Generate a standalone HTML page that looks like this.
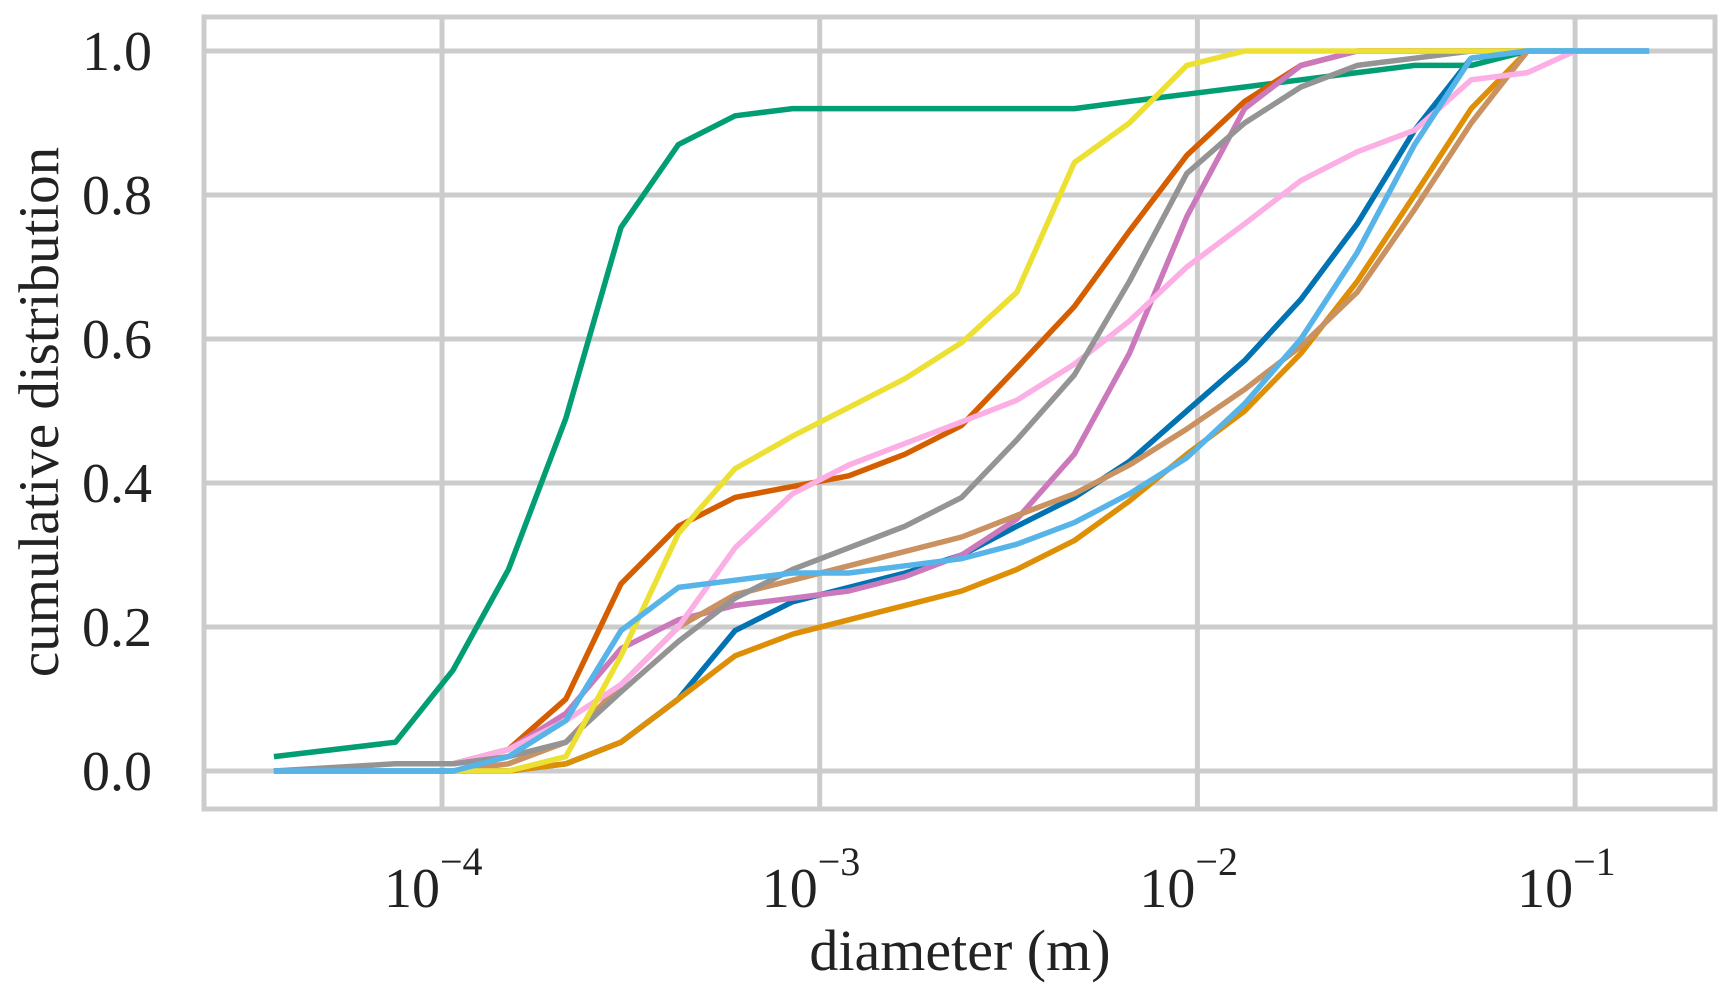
<!DOCTYPE html>
<html><head><meta charset="utf-8"><style>
html,body{margin:0;padding:0;background:#fff;}
svg{display:block;font-family:"Liberation Serif",serif;}
</style></head><body>
<svg id="chart" width="1724" height="994" viewBox="0 0 1724 994">
<g id="grid"></g>
<rect x="204" y="17" width="1511" height="792" fill="none" stroke="#cccccc" stroke-width="5"/>
<g id="lines"></g>
<g id="labels"></g>
<text x="960" y="970" font-size="58" text-anchor="middle" fill="#222">diameter (m)</text>
<text transform="translate(58,412) rotate(-90)" font-size="57" text-anchor="middle" fill="#222">cumulative distribution</text>
</svg>
<script>
const xLog=[-4.445,-4.123,-3.971,-3.824,-3.672,-3.526,-3.374,-3.224,-3.072,-2.923,-2.774,-2.624,-2.478,-2.326,-2.180,-2.028,-1.875,-1.726,-1.577,-1.425,-1.275,-1.126,-1.0,-0.804];
const yTicks=[0,0.2,0.4,0.6,0.8,1.0];
const yTickLabels=["0.0","0.2","0.4","0.6","0.8","1.0"];
const xTicks=[-4,-3,-2,-1];
const xTickLabels=["−4","−3","−2","−1"];
const _=null;
const sBlue=[0,0,0,0,0.01,0.04,0.1,0.195,0.235,0.255,0.275,0.3,0.34,0.38,0.43,0.5,0.57,0.655,0.76,0.89,0.99,1.0,_,_];
const sOrange=[_,_,0,0,0.01,0.04,0.1,0.16,0.19,0.21,0.23,0.25,0.28,0.32,0.375,0.44,0.5,0.58,0.68,0.8,0.92,1.0,_,_];
const sGreen=[0.02,0.04,0.14,0.28,0.49,0.755,0.87,0.91,0.92,0.92,0.92,0.92,0.92,0.92,0.93,0.94,0.95,0.96,0.97,0.98,0.98,1.0,1.0,1.0];
const sVermilion=[_,_,0.01,0.03,0.1,0.26,0.34,0.38,0.395,0.41,0.44,0.48,0.56,0.645,0.75,0.855,0.93,0.98,1.0,1.0,1.0,1.0,_,_];
const sPink=[_,_,0.01,0.03,0.08,0.17,0.21,0.23,0.24,0.25,0.27,0.3,0.35,0.44,0.58,0.77,0.92,0.98,1.0,1.0,1.0,1.0,_,_];
const sTan=[_,_,0,0.01,0.04,0.12,0.2,0.245,0.265,0.285,0.305,0.325,0.355,0.385,0.425,0.475,0.53,0.59,0.665,0.78,0.9,1.0,_,_];
const sLightPink=[_,_,0.01,0.03,0.07,0.12,0.2,0.31,0.385,0.425,0.455,0.485,0.515,0.565,0.625,0.7,0.76,0.82,0.86,0.89,0.96,0.97,1.0,1.0];
const sGray=[0,0.01,0.01,0.02,0.04,0.11,0.18,0.24,0.28,0.31,0.34,0.38,0.46,0.55,0.68,0.83,0.9,0.95,0.98,0.99,1.0,1.0,_,_];
const sYellow=[_,_,0,0,0.02,0.16,0.33,0.42,0.465,0.505,0.545,0.595,0.665,0.845,0.9,0.98,1.0,1.0,1.0,1.0,1.0,1.0,_,_];
const sSky=[0,0,0,0.02,0.07,0.195,0.255,0.265,0.275,0.275,0.285,0.295,0.315,0.345,0.385,0.435,0.51,0.6,0.72,0.87,0.99,1.0,1.0,1.0];
const seriesList=[["blue",sBlue,"#0173b2"],["orange",sOrange,"#de8f05"],["green",sGreen,"#029e73"],["vermilion",sVermilion,"#d55e00"],["pink",sPink,"#cc78bc"],["tan",sTan,"#ca9161"],["light-pink",sLightPink,"#fbafe4"],["gray",sGray,"#949494"],["yellow",sYellow,"#ece133"],["sky-blue",sSky,"#56b4e9"]];
const NS="http://www.w3.org/2000/svg";
function xS(l){return 442+(l+4)*377.7;}
function yS(v){return 771-v*720;}
const grid=document.getElementById('grid'),lines=document.getElementById('lines'),labels=document.getElementById('labels');
yTicks.forEach((t,i)=>{
  const l=document.createElementNS(NS,'line');
  l.setAttribute('x1',204);l.setAttribute('x2',1715);l.setAttribute('y1',yS(t));l.setAttribute('y2',yS(t));
  l.setAttribute('stroke','#cccccc');l.setAttribute('stroke-width',5);
  
  
  grid.appendChild(l);
  const tx=document.createElementNS(NS,'text');
  tx.setAttribute('x',152);tx.setAttribute('y',yS(t)+19);tx.setAttribute('text-anchor','end');tx.setAttribute('font-size',56);tx.setAttribute('fill','#222');
  tx.textContent=yTickLabels[i];
  
  
  labels.appendChild(tx);
});
xTicks.forEach((t,i)=>{
  const l=document.createElementNS(NS,'line');
  l.setAttribute('y1',17);l.setAttribute('y2',809);l.setAttribute('x1',xS(t));l.setAttribute('x2',xS(t));
  l.setAttribute('stroke','#cccccc');l.setAttribute('stroke-width',5);
  
  
  grid.appendChild(l);
  const tx=document.createElementNS(NS,'text');
  tx.setAttribute('x',xS(t)-58);tx.setAttribute('y',907);tx.setAttribute('font-size',56);tx.setAttribute('fill','#222');
  tx.innerHTML='10<tspan dy="-32" font-size="40">'+xTickLabels[i]+'</tspan>';
  
  
  labels.appendChild(tx);
});
seriesList.forEach(([name,vals,color])=>{
  const pts=[];
  vals.forEach((v,i)=>{if(v!==null)pts.push(xS(xLog[i]).toFixed(1)+','+yS(v).toFixed(1));});
  const p=document.createElementNS(NS,'polyline');
  p.setAttribute('points',pts.join(' '));
  p.setAttribute('fill','none');p.setAttribute('stroke',color);p.setAttribute('stroke-width',5.5);
  p.setAttribute('stroke-linejoin','round');
  
  
  lines.appendChild(p);
});
</script>
</body></html>
